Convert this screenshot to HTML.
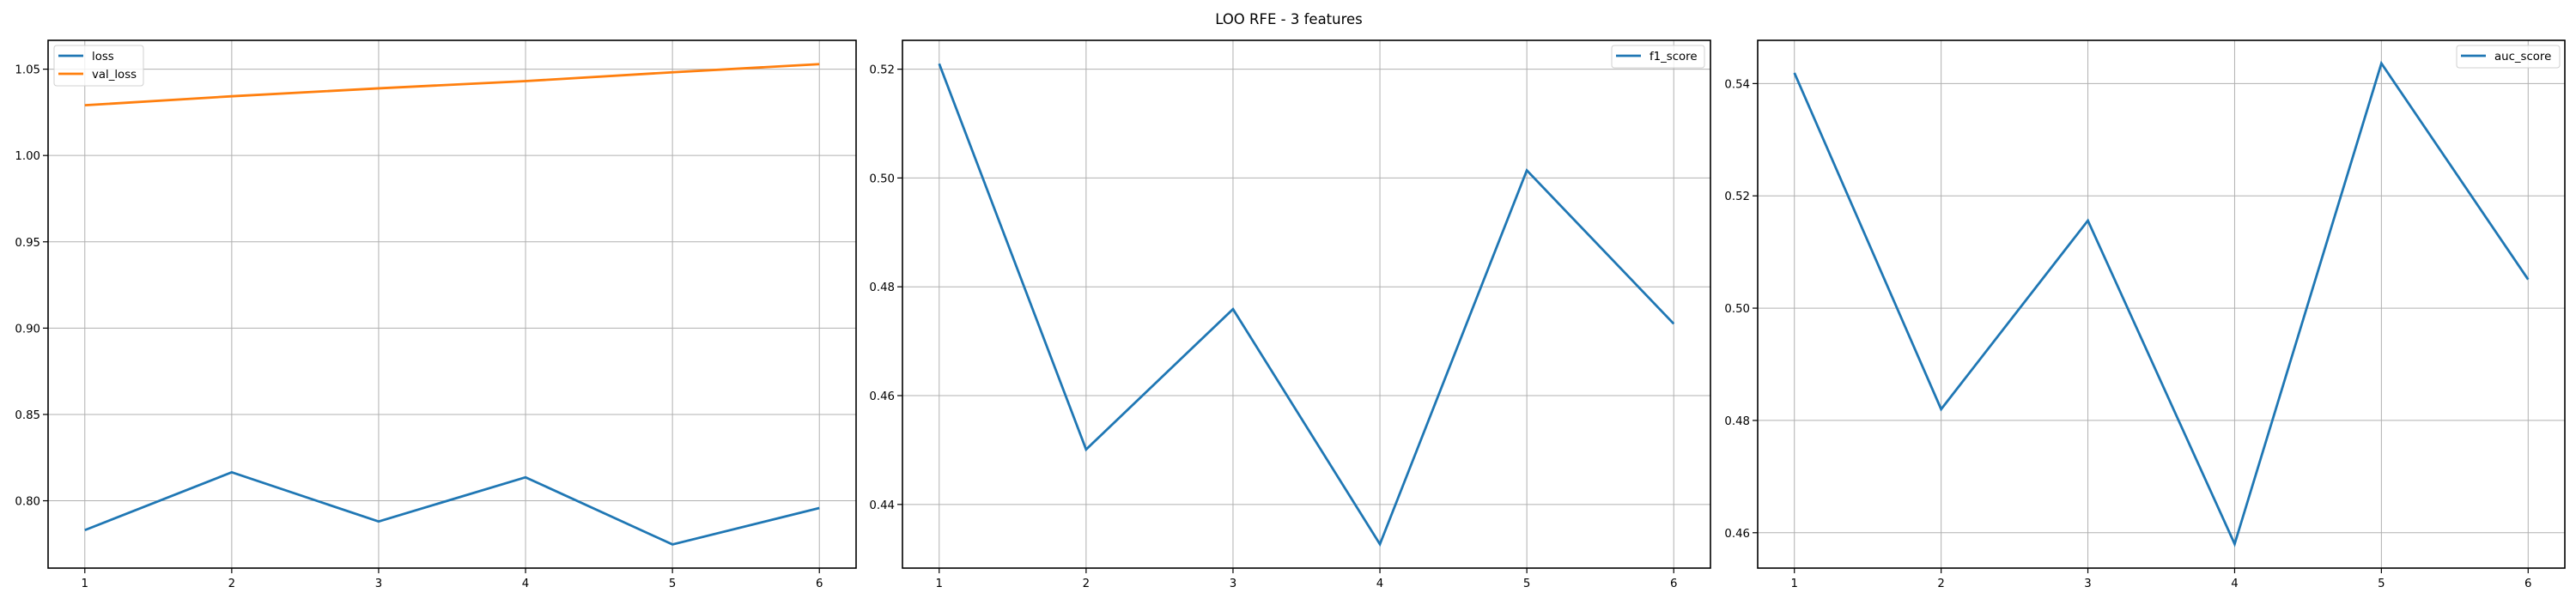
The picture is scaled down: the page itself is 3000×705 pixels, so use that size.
<!DOCTYPE html>
<html><head><meta charset="utf-8"><style>
body{margin:0;background:#fff;width:3000px;height:700px;overflow:hidden}
svg text{font-family:"DejaVu Sans","Liberation Sans",sans-serif;font-size:13.3px;fill:#000}
</style></head><body>
<svg id="fig" width="3000" height="700" xmlns="http://www.w3.org/2000/svg">
<text x="1501" y="28" text-anchor="middle" style="font-size:16.5px">LOO RFE - 3 features</text>
</svg>
<script>
const epochs = [1, 2, 3, 4, 5, 6];
const lossValues = [0.783, 0.8165, 0.788, 0.8136, 0.7747, 0.7958];
const valLossValues = [1.0291, 1.0343, 1.0389, 1.0431, 1.0482, 1.0529];
const f1Values = [0.521, 0.4501, 0.4759, 0.4327, 0.5014, 0.4732];
const aucValues = [0.5419, 0.4820, 0.5156, 0.4580, 0.5436, 0.5051];
const lossTicks = [0.80, 0.85, 0.90, 0.95, 1.00, 1.05];
const f1Ticks = [0.44, 0.46, 0.48, 0.50, 0.52];
const aucTicks = [0.46, 0.48, 0.50, 0.52, 0.54];

const NS = "http://www.w3.org/2000/svg";
const svg = document.getElementById('fig');
function mk(tag, attrs, parent) {
  const e = document.createElementNS(NS, tag);
  for (const k in attrs) e.setAttribute(k, attrs[k]);
  (parent || svg).appendChild(e);
  return e;
}
const TOP = 47, BOT = 662;

function panel(name, left, right, yMin, yMax, ticks, series, legend) {
  const g = mk('g', {});
  
  
  const xMin = 0.75, xMax = 6.25;
  const xs = v => left + (v - xMin) / (xMax - xMin) * (right - left);
  const ys = v => BOT - (v - yMin) / (yMax - yMin) * (BOT - TOP);
  epochs.forEach(e => {
    const x = xs(e);
    const gl = mk('line', {x1: x, x2: x, y1: TOP, y2: BOT, stroke: '#b0b0b0', 'stroke-width': 1}, g);
    
    
    mk('line', {x1: x, x2: x, y1: BOT, y2: BOT + 6, stroke: '#000', 'stroke-width': 1.2}, g);
    const t = mk('text', {x: x, y: BOT + 22, 'text-anchor': 'middle'}, g);
    t.textContent = e;
    
    
  });
  ticks.forEach(v => {
    const y = ys(v);
    const gl = mk('line', {x1: left, x2: right, y1: y, y2: y, stroke: '#b0b0b0', 'stroke-width': 1}, g);
    
    
    mk('line', {x1: left - 6, x2: left, y1: y, y2: y, stroke: '#000', 'stroke-width': 1.2}, g);
    const t = mk('text', {x: left - 9, y: y + 5, 'text-anchor': 'end'}, g);
    t.textContent = v.toFixed(2);
    
    
  });
  series.forEach(s => {
    const p = mk('polyline', {points: s.vals.map((v, i) => xs(epochs[i]) + ',' + ys(v)).join(' '), fill: 'none', stroke: s.color, 'stroke-width': 2.8}, g);
    
    
  });
  const fr = mk('rect', {x: left, y: TOP, width: right - left, height: BOT - TOP, fill: 'none', stroke: '#000', 'stroke-width': 1.6}, g);
  
  
  // legend
  const lg = mk('g', {}, g);
  
  
  mk('rect', {x: legend.x, y: 53, width: legend.w, height: series.length * 21 + 5, rx: 3, fill: 'rgba(255,255,255,0.8)', stroke: '#d0d0d0', 'stroke-width': 1}, lg);
  series.forEach((s, i) => {
    const yy = 65 + i * 21;
    mk('line', {x1: legend.x + 5, x2: legend.x + 34, y1: yy, y2: yy, stroke: s.color, 'stroke-width': 2.8}, lg);
    const t = mk('text', {x: legend.x + 44, y: yy + 5}, lg);
    t.textContent = s.label;
    
    
  });
}
panel('loss', 56, 997, 0.761, 1.0667, lossTicks,
  [{vals: lossValues, color: '#1f77b4', label: 'loss'}, {vals: valLossValues, color: '#ff7f0e', label: 'val_loss'}],
  {x: 63, w: 104});
panel('f1', 1051, 1992, 0.4283, 0.5253, f1Ticks,
  [{vals: f1Values, color: '#1f77b4', label: 'f1_score'}], {x: 1877, w: 108});
panel('auc', 2047, 2987, 0.4537, 0.5477, aucTicks,
  [{vals: aucValues, color: '#1f77b4', label: 'auc_score'}], {x: 2861, w: 120});
</script>
</body></html>
